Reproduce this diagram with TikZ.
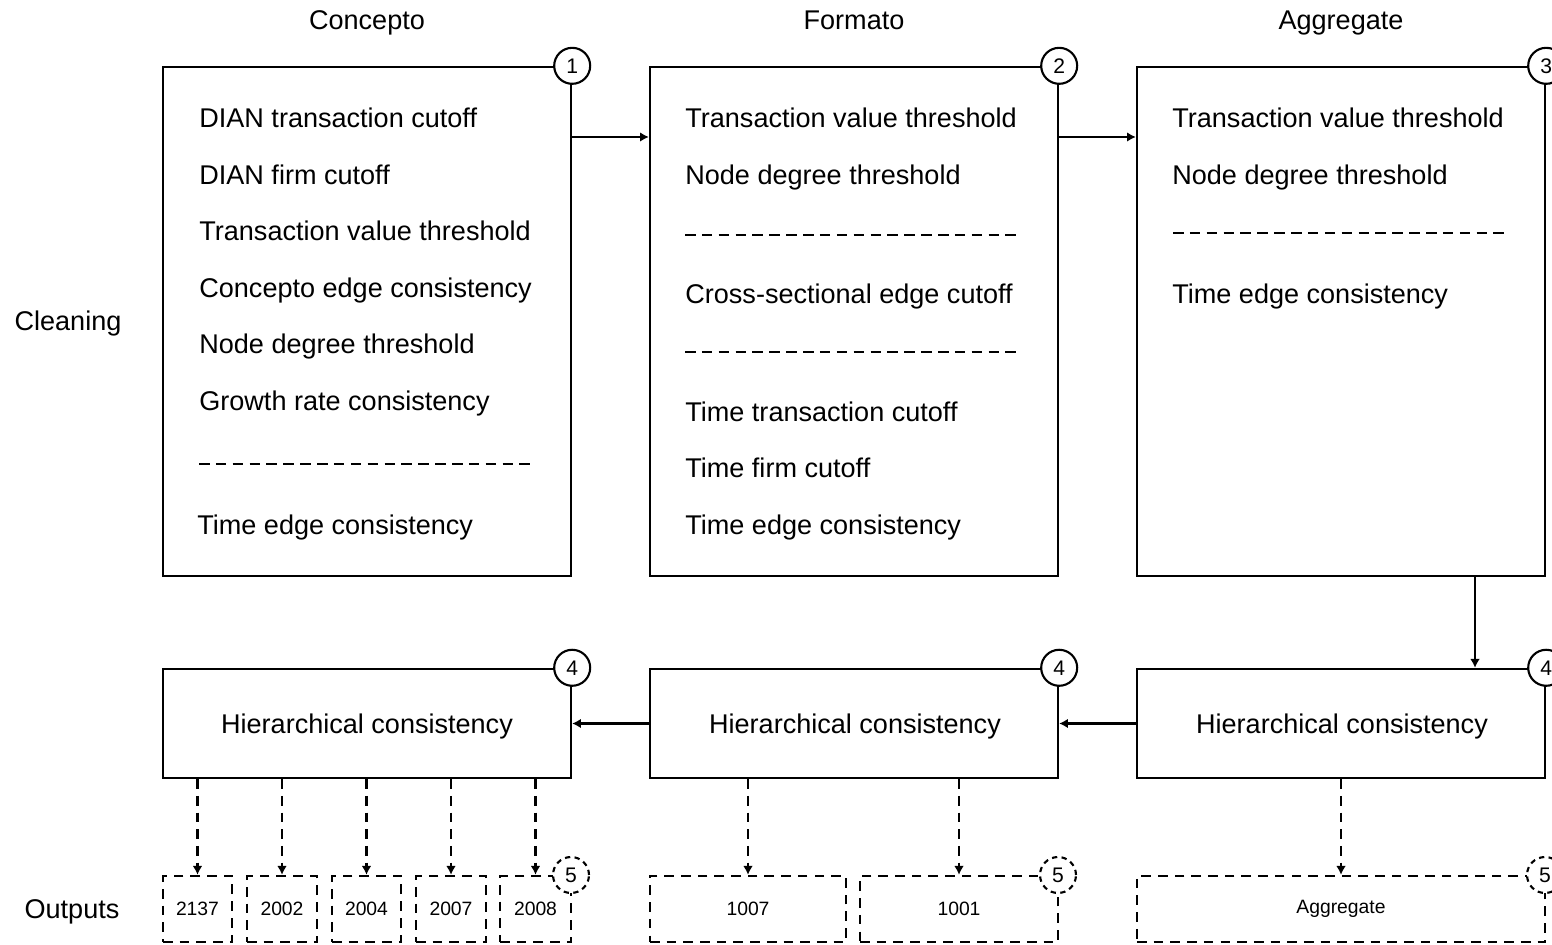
\documentclass[tikz,border=0pt]{standalone}
\usepackage{fontspec}
\setmainfont{Liberation Sans}
\usetikzlibrary{arrows.meta}
\begin{document}
\begin{tikzpicture}[x=0.02cm,y=-0.02cm,
  every node/.style={font=\fontsize{15.4}{18}\selectfont},
  box/.style={draw,line width=1.4pt,fill=white,inner sep=0pt},
  outbox/.style={draw,line width=1.4pt,dash pattern=on 5.5pt off 4pt,inner sep=0pt,minimum height=1.32cm,font=\fontsize{11}{13}\selectfont},
  num/.style={draw,circle,line width=1.2pt,fill=white,minimum size=0.72cm,inner sep=0pt,font=\fontsize{12}{14}\selectfont},
  dnum/.style={num,dash pattern=on 3pt off 2.5pt},
  item/.style={anchor=base west,inner sep=0pt},
  lab/.style={anchor=base,inner sep=0pt},
  sep/.style={line width=1.4pt,dash pattern=on 6pt off 3.6pt},
  arr/.style={line width=1.4pt,-{Latex[length=5pt,width=5.5pt]}},
  darr/.style={arr,dash pattern=on 5.5pt off 4pt},
]
\useasboundingbox (0,0) rectangle (1552,945);
\clip (0,0) rectangle (1552,945);

% headers
\node[lab] (h1) at (367,30) {Concepto};
\node[lab] (h2) at (854,30) {Formato};
\node[lab] (h3) at (1341,30) {Aggregate};
\node[lab] (lc) at (68,331) {Cleaning};
\node[lab] (lo) at (72,918) {Outputs};

% top boxes
\node[box,minimum width=8.16cm,minimum height=10.18cm] (b1) at (367,321.5) {};
\node[box,minimum width=8.16cm,minimum height=10.18cm] (b2) at (854,321.5) {};
\node[box,minimum width=8.16cm,minimum height=10.18cm] (b3) at (1341,321.5) {};

% box 1 items
\node[item] (t11) at (199,128) {DIAN transaction cutoff};
\node[item] (t12) at (199,185) {DIAN firm cutoff};
\node[item] (t13) at (199,241) {Transaction value threshold};
\node[item] (t14) at (199,298) {Concepto edge consistency};
\node[item] (t15) at (199,354) {Node degree threshold};
\node[item] (t16) at (199,411) {Growth rate consistency};
\draw[sep] (199,464) -- (535,464);
\node[item] (t17) at (197,535) {Time edge consistency};

% box 2 items
\node[item] (t21) at (685,128) {Transaction value threshold};
\node[item] (t22) at (685,185) {Node degree threshold};
\draw[sep] (685,235) -- (1022,235);
\node[item] (t23) at (685,304) {Cross-sectional edge cutoff};
\draw[sep] (685,352) -- (1022,352);
\node[item] (t24) at (685,422) {Time transaction cutoff};
\node[item] (t25) at (685,478) {Time firm cutoff};
\node[item] (t26) at (685,535) {Time edge consistency};

% box 3 items
\node[item] (t31) at (1172,128) {Transaction value threshold};
\node[item] (t32) at (1172,185) {Node degree threshold};
\draw[sep] (1173,233) -- (1509,233);
\node[item] (t33) at (1172,304) {Time edge consistency};

% bottom boxes
\node[box,minimum width=8.16cm,minimum height=2.18cm] (b4) at (367,723.5) {};
\node[box,minimum width=8.16cm,minimum height=2.18cm] (b5) at (854,723.5) {};
\node[box,minimum width=8.16cm,minimum height=2.18cm] (b6) at (1341,723.5) {};
\node[lab] (t4) at (367,733) {Hierarchical consistency};
\node[lab] (t5) at (855,733) {Hierarchical consistency};
\node[lab] (t6) at (1342,733) {Hierarchical consistency};

% connectors
\coordinate (a12) at (571,137);
\coordinate (a23) at (1058,137);
\coordinate (a36) at (1475,576);
\draw[arr] (a12) -- (a12 -| b2.west);
\draw[arr] (a23) -- (a23 -| b3.west);
\draw[arr] (a36) -- (a36 |- b6.north);
\draw[arr] (b6.west) -- (b5.east);
\draw[arr] (b5.west) -- (b4.east);

% output boxes
\node[outbox,minimum width=1.38cm] (o1) at (197.5,909) {2137};
\node[outbox,minimum width=1.40cm] (o2) at (282,909) {2002};
\node[outbox,minimum width=1.38cm] (o3) at (366.5,909) {2004};
\node[outbox,minimum width=1.40cm] (o4) at (451,909) {2007};
\node[outbox,minimum width=1.42cm] (o5) at (535.5,909) {2008};
\node[outbox,minimum width=3.92cm] (o6) at (748,909) {1007};
\node[outbox,minimum width=3.96cm] (o7) at (959,909) {1001};
\node[outbox,minimum width=8.16cm] (o8) at (1341,909) {Aggregate};

\foreach \o in {o1,o2,o3,o4,o5}{\draw[darr] (b4.south -| \o.north) -- (\o.north);}
\foreach \o in {o6,o7}{\draw[darr] (b5.south -| \o.north) -- (\o.north);}
\draw[darr] (b6.south -| o8.north) -- (o8.north);

% step numbers
\node[num] (n1) at (b1.north east) {1};
\node[num] (n2) at (b2.north east) {2};
\node[num] (n3) at (b3.north east) {3};
\node[num] (n4a) at (b4.north east) {4};
\node[num] (n4b) at (b5.north east) {4};
\node[num] (n4c) at (b6.north east) {4};
\node[dnum] (n5a) at (571,875) {5};
\node[dnum] (n5b) at (1058,875) {5};
\node[dnum] (n5c) at (1545,875) {5};
\end{tikzpicture}
\end{document}
